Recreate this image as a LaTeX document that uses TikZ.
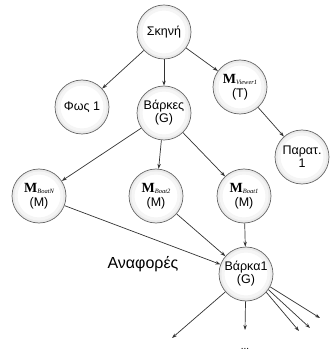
\documentclass[tikz,border=0pt]{standalone}
\usepackage{fontspec}
\setmainfont{Liberation Sans}
\newfontfamily\serifm{Liberation Serif}
\usetikzlibrary{arrows.meta}
\newcommand{\Mlab}[1]{{\serifm\fontsize{14}{14}\selectfont\bfseries M}{\serifm\itshape\fontsize{6.5}{7}\selectfont\raisebox{-0.3ex}{#1}}}
\begin{document}
\begin{tikzpicture}[x=1pt,y=-1pt,
  ball/.style={circle,draw=black!60,line width=0.7pt,minimum size=54pt,inner sep=0pt,fill=white,
    path picture={\draw[black!8,line width=3pt] (path picture bounding box.center) circle (25.5pt);
                  \draw[black!4,line width=3pt] (path picture bounding box.center) circle (23pt);},
    align=center,font=\fontsize{12.5}{13}\selectfont},
  arr/.style={-{Stealth[length=5pt,width=3.5pt]},draw=black!80,line width=0.7pt}]
\useasboundingbox (0,0) rectangle (331,355);
\node[ball] (sc) at (164,32) {Σκηνή};
\node[ball] (fos) at (82,107) {Φως 1};
\node[ball] (bk) at (164,113) {Βάρκες\\(G)};
\node[ball] (mv) at (240,87) {\Mlab{Viewer1}\\[1pt](T)};
\node[ball] (par) at (302,157) {Παρατ.\\1};
\node[ball] (mn) at (39,196) {\Mlab{BoatN}\\[1pt](M)};
\node[ball] (m2) at (156,196) {\Mlab{Boat2}\\[1pt](M)};
\node[ball] (m1) at (244,196) {\Mlab{Boat1}\\[1pt](M)};
\node[ball] (b1) at (246,274) {Βάρκα1\\(G)};
\node[font=\fontsize{16}{16}\selectfont] (ref) at (143,264) {Αναφορές};
\coordinate (o1) at (172,338);
\coordinate (o2) at (245,330);
\coordinate (o3) at (299,331);
\coordinate (o4) at (310,328);
\coordinate (o5) at (320,318);
\node[font=\fontsize{10}{10}\selectfont] (dots) at (245,349) {...};
\draw[arr] (sc) -- (fos);
\draw[arr] (sc) -- (bk);
\draw[arr] (sc) -- (mv);
\draw[arr] (mv) -- (par);
\draw[arr] (bk) -- (mn);
\draw[arr] (bk) -- (m2);
\draw[arr] (bk) -- (m1);
\draw[arr] (mn) -- (b1);
\draw[arr] (m2) -- (b1);
\draw[arr] (m1) -- (b1);
\draw[arr] (b1) -- (o1);
\draw[arr] (b1) -- (o2);
\draw[arr] (b1.-42) -- (o3);
\draw[arr] (b1.-35) -- (o4);
\draw[arr] (b1.-28) -- (o5);
\end{tikzpicture}
\end{document}
